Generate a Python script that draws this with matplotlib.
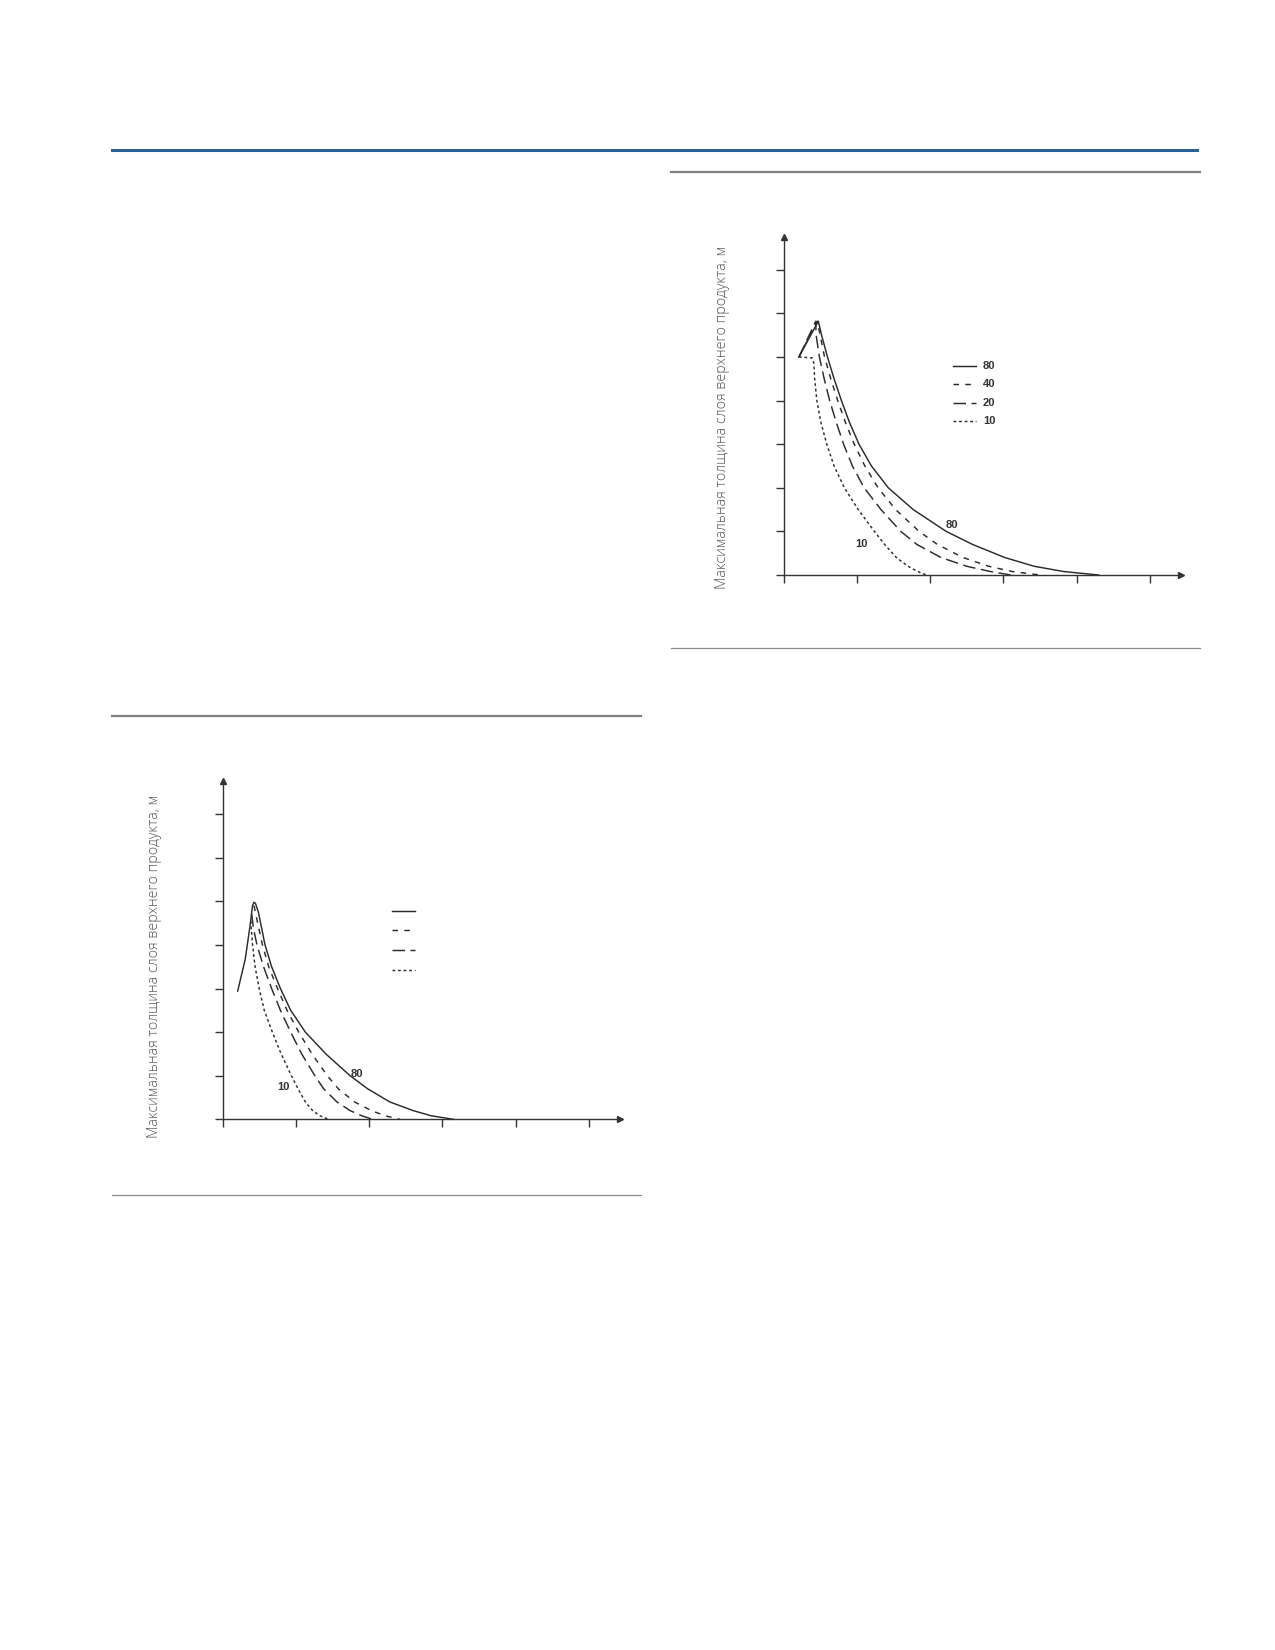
import matplotlib
matplotlib.use('Agg')
import matplotlib.pyplot as plt
from matplotlib.lines import Line2D

plt.rcParams['lines.scale_dashes'] = False

W, H = 1275, 1650

# --- data (x, y in tick units) ---
series_labels = ['80', '40', '20', '10']

# upper right chart
top_x80 = [0.21, 0.475, 0.52, 0.60, 0.69, 0.79, 0.90, 1.03, 1.20, 1.43, 1.77, 2.22, 2.58, 3.02, 3.42, 3.82, 4.3]
top_y80 = [5.0, 5.82, 5.5, 5.0, 4.5, 4.0, 3.5, 3.0, 2.5, 2.0, 1.5, 1.0, 0.7, 0.4, 0.2, 0.08, 0.0]
top_x40 = [0.21, 0.46, 0.50, 0.56, 0.645, 0.74, 0.845, 0.965, 1.11, 1.29, 1.53, 1.85, 2.1, 2.45, 2.8, 3.12, 3.5]
top_y40 = [5.0, 5.82, 5.5, 5.0, 4.5, 4.0, 3.5, 3.0, 2.5, 2.0, 1.5, 1.0, 0.7, 0.4, 0.2, 0.08, 0.0]
top_x20 = [0.21, 0.44, 0.445, 0.49, 0.555, 0.63, 0.72, 0.82, 0.94, 1.10, 1.33, 1.60, 1.82, 2.15, 2.5, 2.82, 3.1]
top_y20 = [5.0, 5.82, 5.5, 5.0, 4.5, 4.0, 3.5, 3.0, 2.5, 2.0, 1.5, 1.0, 0.7, 0.4, 0.2, 0.08, 0.0]
top_x10 = [0.21, 0.39, 0.415, 0.425, 0.455, 0.51, 0.59, 0.69, 0.83, 1.02, 1.24, 1.38, 1.54, 1.70, 1.83, 1.95]
top_y10 = [5.0, 4.98, 4.85, 4.5, 4.0, 3.5, 3.0, 2.5, 2.0, 1.5, 1.0, 0.7, 0.4, 0.2, 0.08, 0.0]

# lower left chart
bot_x80 = [0.207, 0.31, 0.375, 0.41, 0.43, 0.45, 0.49, 0.58, 0.67, 0.79, 0.93, 1.13, 1.41, 1.74, 1.98, 2.28, 2.6, 2.85, 3.15]
bot_y80 = [2.94, 3.67, 4.43, 4.90, 4.98, 4.95, 4.75, 4.0, 3.5, 3.0, 2.5, 2.0, 1.5, 1.0, 0.7, 0.4, 0.2, 0.08, 0.0]
bot_x40 = [0.43, 0.48, 0.545, 0.63, 0.75, 0.88, 1.04, 1.22, 1.43, 1.58, 1.8, 2.03, 2.22, 2.42]
bot_y40 = [4.9, 4.5, 4.0, 3.5, 3.0, 2.5, 2.0, 1.5, 1.0, 0.7, 0.4, 0.2, 0.08, 0.0]
bot_x20 = [0.40, 0.42, 0.47, 0.56, 0.67, 0.79, 0.93, 1.08, 1.26, 1.38, 1.56, 1.74, 1.9, 2.05]
bot_y20 = [4.7, 4.4, 4.0, 3.5, 3.0, 2.5, 2.0, 1.5, 1.0, 0.7, 0.4, 0.2, 0.08, 0.0]
bot_x10 = [0.385, 0.41, 0.445, 0.50, 0.57, 0.68, 0.80, 0.94, 1.03, 1.13, 1.23, 1.33, 1.45]
bot_y10 = [4.55, 4.0, 3.5, 3.0, 2.5, 2.0, 1.5, 1.0, 0.7, 0.4, 0.2, 0.08, 0.0]

x_ticks = [0, 1, 2, 3, 4, 5]
y_ticks = [0, 1, 2, 3, 4, 5, 6, 7]

ylabel = 'Максимальная толщина слоя верхнего продукта, м'

styles = ['-', (0, (4, 4.5)), (0, (9, 4)), (0, (2, 2))]
ink = '#2b2b2b'
XMAX, YMAX = 5.42, 7.75
XU, YU = 73.3, 43.6


def make_axes(fig, ox, oy):
    # ox, oy: pixel position of the origin (from top-left)
    w = XMAX * XU
    h = YMAX * YU
    ax = fig.add_axes([ox / W, (H - oy) / H, w / W, h / H])
    ax.set_xlim(0, XMAX)
    ax.set_ylim(0, YMAX)
    for s in ['top', 'right']:
        ax.spines[s].set_visible(False)
    for s in ['left', 'bottom']:
        ax.spines[s].set_color('#333333')
        ax.spines[s].set_linewidth(1.0)
    ax.set_xticks(x_ticks)
    ax.set_yticks(y_ticks)
    ax.tick_params(direction='out', length=6, width=1.0, color='#333333',
                   labelbottom=False, labelleft=False)
    ax.patch.set_alpha(0)
    # arrow heads
    ax.plot([XMAX], [0], marker='>', ms=5, color='#333333', clip_on=False)
    ax.plot([0], [YMAX], marker='^', ms=5, color='#333333', clip_on=False)
    return ax


def draw_curves(ax, xs, ys):
    for x, y, ls in zip(xs, ys, styles):
        ax.plot(x, y, color=ink, lw=1.05, linestyle=ls, clip_on=False,
                solid_joinstyle='round')


def draw_legend(ax, labels, rows):
    for i, ls in enumerate(styles):
        ax.plot([0.427, 0.485], [rows[i], rows[i]], transform=ax.transAxes,
                color=ink, lw=1.05, linestyle=ls)
        if labels:
            ax.text(0.502, rows[i], labels[i], transform=ax.transAxes,
                    fontsize=8, fontweight='bold', color='#333333',
                    family='Liberation Sans', va='center', ha='left')


fig = plt.figure(figsize=(W / 100, H / 100), dpi=100)


def hline(y, x0, x1, color, lw):
    fig.add_artist(Line2D([x0 / W, x1 / W], [(H - y) / H, (H - y) / H],
                          color=color, lw=lw, transform=fig.transFigure))


# page rules
hline(150.3, 112, 1197, '#2c5f97', 2.2)
hline(171.7, 671, 1200, '#808080', 1.6)
hline(648, 671, 1200, '#8a8a8a', 0.9)
hline(716, 112, 641, '#808080', 1.6)
hline(1195, 112, 641, '#8a8a8a', 0.9)

# upper right chart
ax1 = make_axes(fig, 783.5, 575)
draw_curves(ax1, [top_x80, top_x40, top_x20, top_x10], [top_y80, top_y40, top_y20, top_y10])
draw_legend(ax1, series_labels, [0.620, 0.566, 0.510, 0.455])
ax1.text(2.30, 1.14, '80', fontsize=8, fontweight='bold', color='#333333',
         family='Liberation Sans', ha='center', va='center')
ax1.text(1.07, 0.70, '10', fontsize=8, fontweight='bold', color='#333333',
         family='Liberation Sans', ha='center', va='center')
fig.text(722 / W, (H - 417) / H, ylabel, rotation=90, fontsize=10.3,
         color='#555555', family='Open Sans', fontweight='light',
         ha='center', va='center')

# lower left chart
ax2 = make_axes(fig, 222.5, 1119.3)
draw_curves(ax2, [bot_x80, bot_x40, bot_x20, bot_x10], [bot_y80, bot_y40, bot_y20, bot_y10])
draw_legend(ax2, None, [0.616, 0.559, 0.502, 0.443])
ax2.text(1.83, 1.05, '80', fontsize=8, fontweight='bold', color='#333333',
         family='Liberation Sans', ha='center', va='center')
ax2.text(0.83, 0.73, '10', fontsize=8, fontweight='bold', color='#333333',
         family='Liberation Sans', ha='center', va='center')
fig.text(155 / W, (H - 966) / H, ylabel, rotation=90, fontsize=10.3,
         color='#555555', family='Open Sans', fontweight='light',
         ha='center', va='center')

fig.savefig('out.png', dpi=100)
